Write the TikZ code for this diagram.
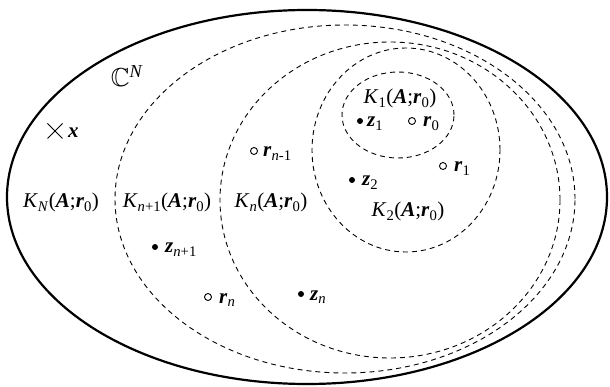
\documentclass[tikz,border=0pt]{standalone}
\usepackage{amssymb}
\usepackage{fontspec}
\setmainfont{Liberation Serif}
\usetikzlibrary{shapes.misc}
\newcommand{\bi}[1]{\textbf{\textit{#1}}}
\newcommand{\Kset}[1]{\textit{K}\textsubscript{#1}(\bi{A};\bi{r}\textsubscript{0})}
\begin{document}
\begin{tikzpicture}[x=1pt,y=-1pt,
  outerset/.style={line width=2.2pt},
  kset/.style={dash pattern=on 5pt off 4pt, line width=0.9pt},
  zdot/.style={circle, fill=black, inner sep=0pt, minimum size=6pt},
  rcirc/.style={circle, draw=black, line width=0.9pt, inner sep=0pt, minimum size=7pt},
  lab/.style={font=\fontsize{21}{24}\selectfont, inner sep=0pt},
  ptlab/.style={lab, anchor=base west}]
\useasboundingbox[fill=white] (0,0) rectangle (610,387);
% sets
\draw[outerset] (307,197) ellipse [x radius=300pt, y radius=187pt];
\draw[kset] (345,199) ellipse [x radius=230pt, y radius=174pt];
\draw[kset] (390,200) ellipse [x radius=170pt, y radius=158pt];
\draw[kset] (406,150) ellipse [x radius=94pt, y radius=102pt];
\draw[kset] (398,115) ellipse [x radius=56pt, y radius=43pt];
% set labels
\node[lab, anchor=base, font=\fontsize{26}{30}\selectfont] (cn) at (127,87) {$\mathbb{C}$\textsuperscript{\textit{N}}};
\node[lab, anchor=base] (kN) at (61,208) {\Kset{\textit{N}}};
\node[lab, anchor=base] (kn1) at (167,208) {\Kset{\textit{n}+1}};
\node[lab, anchor=base] (kn) at (271,208) {\Kset{\textit{n}}};
\node[lab, anchor=base] (k1) at (400,104) {\Kset{1}};
\node[lab, anchor=base] (k2) at (408,217) {\Kset{2}};
% point x
\node[cross out, draw=black, line width=1pt, minimum size=14pt, inner sep=0pt] (xm) at (55,131) {};
\node[ptlab] (xl) at (68,138) {\bi{x}};
% points
\node[zdot] (z1) at (360,121) {};
\node[ptlab] (z1l) at (367,127) {\bi{z}\textsubscript{1}};
\node[rcirc] (r0) at (412,121) {};
\node[ptlab] (r0l) at (423,127) {\bi{r}\textsubscript{0}};
\node[rcirc] (r1) at (443,166) {};
\node[ptlab] (r1l) at (454,172) {\bi{r}\textsubscript{1}};
\node[zdot] (z2) at (352,180) {};
\node[ptlab] (z2l) at (362,186) {\bi{z}\textsubscript{2}};
\node[rcirc] (rnm1) at (254,151) {};
\node[ptlab] (rnm1l) at (263,157) {\bi{r}\textsubscript{\textit{n}-1}};
\node[zdot] (zn1) at (155,247) {};
\node[ptlab] (zn1l) at (165,253) {\bi{z}\textsubscript{\textit{n}+1}};
\node[rcirc] (rn) at (208,297) {};
\node[ptlab] (rnl) at (219,303) {\bi{r}\textsubscript{\textit{n}}};
\node[zdot] (zn) at (301,294) {};
\node[ptlab] (znl) at (310,300) {\bi{z}\textsubscript{\textit{n}}};
\end{tikzpicture}
\end{document}
